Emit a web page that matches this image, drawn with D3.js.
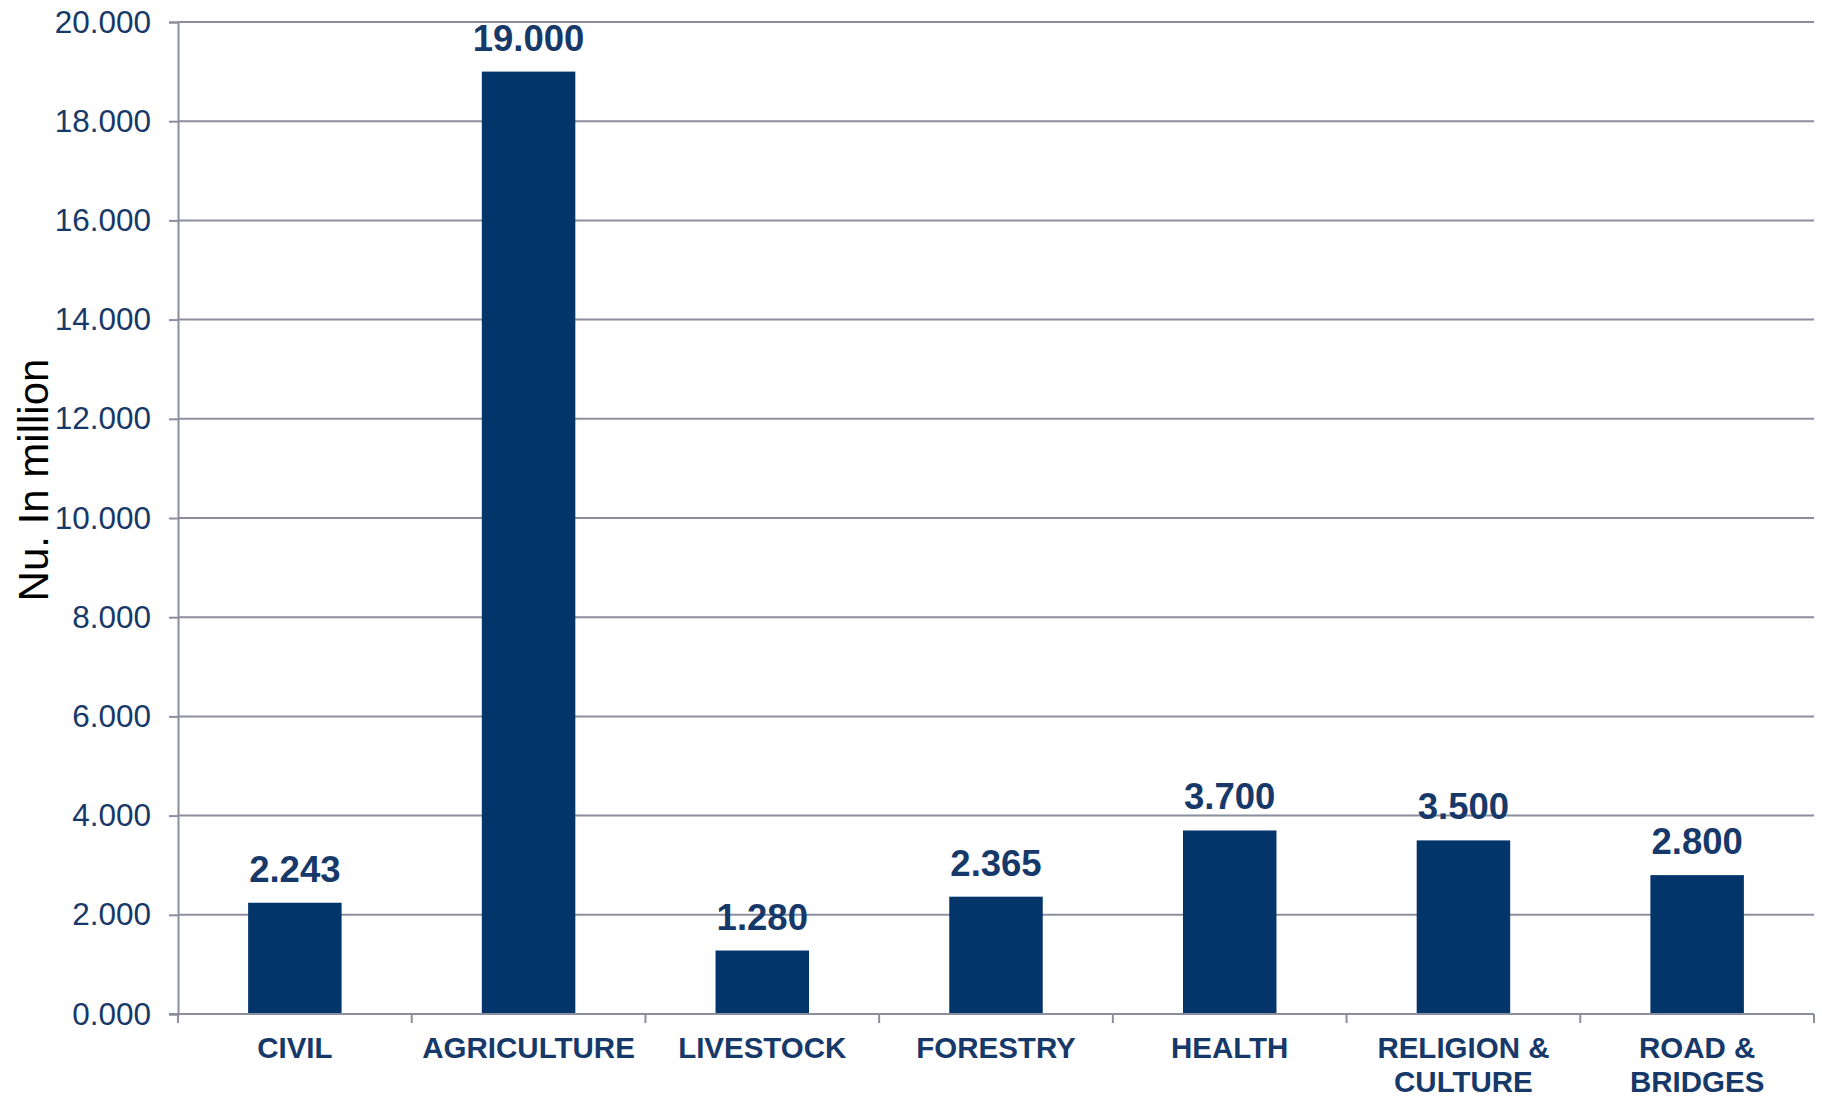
<!DOCTYPE html>
<html>
<head>
<meta charset="utf-8">
<script src="https://cdn.jsdelivr.net/npm/d3@7"></script>
<style>
  body { margin: 0; background: #fff; }
  text { font-family: "Liberation Sans", Arial, sans-serif; }
</style>
</head>
<body>
<script>
// Data.
var categories = ["CIVIL", "AGRICULTURE", "LIVESTOCK", "FORESTRY", "HEALTH", "RELIGION & CULTURE", "ROAD & BRIDGES"];
var catLines   = [["CIVIL"], ["AGRICULTURE"], ["LIVESTOCK"], ["FORESTRY"], ["HEALTH"], ["RELIGION &", "CULTURE"], ["ROAD &", "BRIDGES"]];
var values     = [2.243, 19.000, 1.280, 2.365, 3.700, 3.500, 2.800];
var yTicks     = [0, 2, 4, 6, 8, 10, 12, 14, 16, 18, 20];

// Canvas.
var width    = 1822,
    height   = 1097,
    plotL    = 178,
    plotR    = 1814,
    plotT    = 22,
    plotB    = 1014;

var navy     = "#03346a",
    txtColor = "#17396a",
    grid     = "#8a8e9e";

var svg = d3.select("body")
    .append("svg")
    .attr("width", width)
    .attr("height", height);

var x = d3.scaleBand()
    .domain(categories)
    .range([plotL, plotR])
    .padding(0);

var y = d3.scaleLinear()
    .domain([0, 20])
    .range([plotB, plotT]);

var fmt = d3.format(".3f");

// Gridlines.
svg.selectAll("line.grid")
    .data(yTicks.slice(1))
  .enter()
    .append("line")
    .attr("class", "grid")
    .attr("x1", plotL)
    .attr("x2", plotR)
    .attr("y1", function(d) { return y(d); })
    .attr("y2", function(d) { return y(d); })
    .attr("stroke", grid)
    .attr("stroke-width", 2);

// Y axis.
var yAxis = svg.append("g")
    .attr("transform", "translate(" + plotL + ",0)")
    .call(d3.axisLeft(y).tickValues(yTicks).tickFormat(fmt).tickSizeOuter(0).tickSize(9).tickPadding(18));

yAxis.select(".domain").attr("stroke", grid).attr("stroke-width", 2);
yAxis.selectAll(".tick line").attr("stroke", grid).attr("stroke-width", 2);
yAxis.selectAll(".tick text")
    .attr("fill", txtColor)
    .attr("font-size", "31.5px")
    .attr("font-family", "Liberation Sans, Arial, sans-serif");

// Bars.
var barW = x.bandwidth() * 0.4;

svg.selectAll("rect.bar")
    .data(values)
  .enter()
    .append("rect")
    .attr("class", "bar")
    .attr("x", function(d, i) { return x(categories[i]) + (x.bandwidth() - barW) / 2; })
    .attr("y", function(d) { return y(d); })
    .attr("width", barW)
    .attr("height", function(d) { return plotB - y(d); })
    .attr("fill", navy);

// X axis.
var xg = svg.append("g").attr("transform", "translate(0," + plotB + ")");
xg.append("line")
    .attr("x1", plotL - 9).attr("x2", plotR)
    .attr("y1", 0).attr("y2", 0)
    .attr("stroke", grid).attr("stroke-width", 2);

var bounds = categories.map(function(c) { return x(c); }).concat([plotR]);
xg.selectAll("line.xt")
    .data(bounds)
  .enter()
    .append("line")
    .attr("x1", function(d) { return d; })
    .attr("x2", function(d) { return d; })
    .attr("y1", 0).attr("y2", 9)
    .attr("stroke", grid).attr("stroke-width", 2);

var catText = svg.selectAll("text.cat")
    .data(catLines)
  .enter()
    .append("text")
    .attr("class", "cat")
    .attr("text-anchor", "middle")
    .attr("font-size", "29.5px")
    .attr("font-weight", "bold")
    .attr("fill", txtColor)
    .attr("x", function(d, i) { return x(categories[i]) + x.bandwidth() / 2; })
    .attr("y", 1058);

catText.selectAll("tspan")
    .data(function(d) { return d; })
  .enter()
    .append("tspan")
    .attr("x", function() { return d3.select(this.parentNode).attr("x"); })
    .attr("dy", function(d, i) { return i === 0 ? 0 : 34; })
    .text(function(d) { return d; });

// Value labels.
svg.selectAll("text.val")
    .data(values)
  .enter()
    .append("text")
    .attr("class", "val")
    .text(function(d) { return fmt(d); })
    .attr("text-anchor", "middle")
    .attr("x", function(d, i) { return x(categories[i]) + x.bandwidth() / 2; })
    .attr("y", function(d) { return y(d) - 21; })
    .attr("font-size", "36.5px")
    .attr("font-weight", "bold")
    .attr("fill", txtColor);

// Y axis title.
svg.append("text")
    .text("Nu. In million")
    .attr("transform", "translate(48,480) rotate(-90)")
    .attr("text-anchor", "middle")
    .attr("font-size", "42px")
    .attr("fill", "#000");
</script>
</body>
</html>
